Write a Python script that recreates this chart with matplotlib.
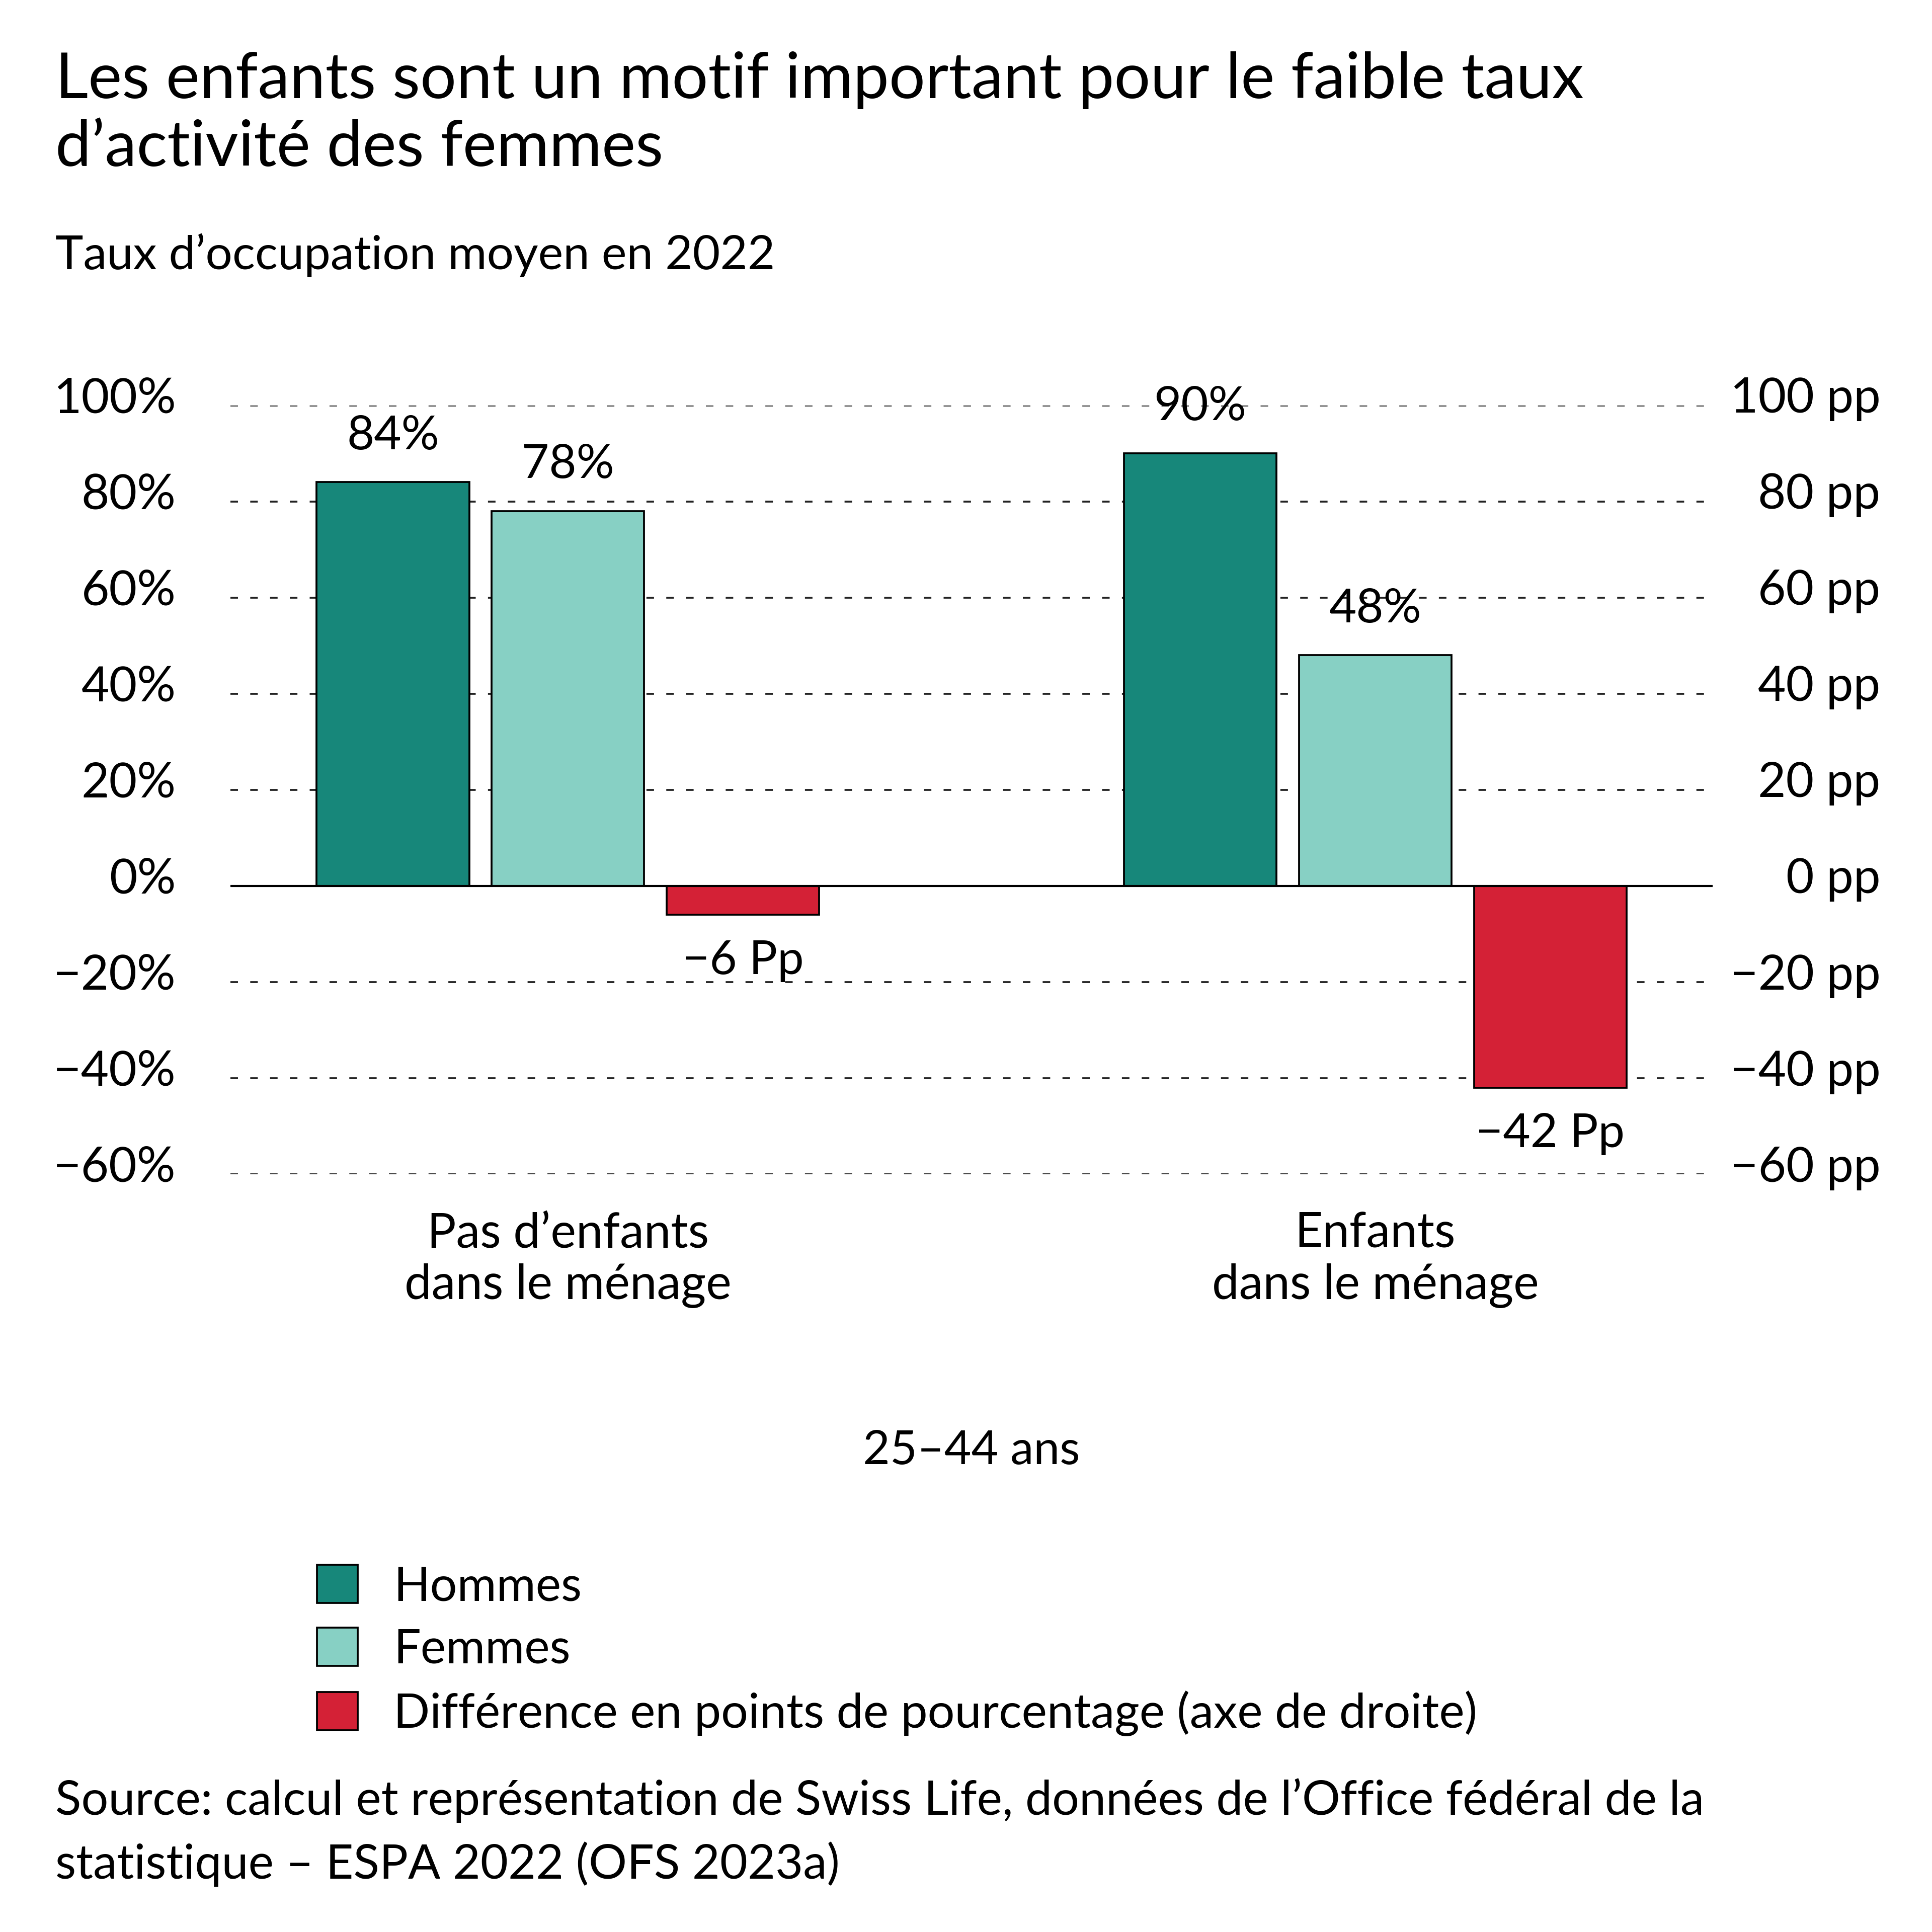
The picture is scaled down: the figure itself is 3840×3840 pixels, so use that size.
import matplotlib
matplotlib.use("Agg")
import matplotlib.pyplot as plt
import matplotlib.transforms as mtransforms
import numpy as np

plt.rcParams['font.family'] = ['Lato', 'DejaVu Sans']

# data
groups = ["Pas d\u2019enfants\ndans le ménage", "Enfants\ndans le ménage"]
hommes = [84, 90]
femmes = [78, 48]
diff = [-6, -42]
hommes_labels = ["84%", "90%"]
femmes_labels = ["78%", "48%"]
diff_labels = ["\u22126 Pp", "\u221242 Pp"]
left_ticks = [-60, -40, -20, 0, 20, 40, 60, 80, 100]
left_ticklabels = ["\u221260%", "\u221240%", "\u221220%", "0%", "20%", "40%", "60%", "80%", "100%"]
right_ticklabels = ["\u221260 pp", "\u221240 pp", "\u221220 pp", "0 pp", "20 pp", "40 pp", "60 pp", "80 pp", "100 pp"]
legend_labels = ["Hommes", "Femmes", "Différence en points de pourcentage (axe de droite)"]

c_hommes = "#17877A"
c_femmes = "#87D0C4"
c_diff = "#D42136"

fig = plt.figure(figsize=(12.8, 12.8), dpi=300)
ax = fig.add_axes([0.1193, 0.3922, 0.7672, 0.398])

x = np.arange(len(groups))
w = 0.189
off = 0.2168
b1 = ax.bar(x - off, hommes, w, color=c_hommes, edgecolor="black", linewidth=0.9, zorder=3)
b2 = ax.bar(x, femmes, w, color=c_femmes, edgecolor="black", linewidth=0.9, zorder=3)
b3 = ax.bar(x + off, diff, w, color=c_diff, edgecolor="black", linewidth=0.9, zorder=3)

# value labels
for bars, labs in [(b1, hommes_labels), (b2, femmes_labels)]:
    for r, t in zip(bars, labs):
        ax.annotate(t, (r.get_x() + r.get_width() / 2, r.get_height()),
                    xytext=(0, 22), textcoords="offset points",
                    ha="center", va="center", fontsize=22.5)
for r, t in zip(b3, diff_labels):
    ax.annotate(t, (r.get_x() + r.get_width() / 2, r.get_height()),
                xytext=(0, -22), textcoords="offset points",
                ha="center", va="center", fontsize=22.5)

ax.set_xlim(-0.418, 1.418)
ax.set_ylim(-60, 100)
for s in ax.spines.values():
    s.set_visible(False)
ax.axhline(0, color="black", linewidth=1.0, zorder=4)
for v in left_ticks:
    if v != 0:
        ax.axhline(v, color="#222222", linewidth=0.9, linestyle=(0, (4, 6.5)), zorder=1)

ax.set_yticks(left_ticks)
ax.set_yticklabels(left_ticklabels, fontsize=23)
ax.tick_params(axis="y", length=0, pad=26)
ax.set_xticks(x)
ax.set_xticklabels(groups, fontsize=23, linespacing=1.2)
ax.tick_params(axis="x", length=0, pad=18)
ax.set_xlabel("25\u201344 ans", fontsize=22.3, labelpad=58)

ax2 = ax.twinx()
ax2.set_ylim(-60, 100)
for s in ax2.spines.values():
    s.set_visible(False)
ax2.set_yticks(left_ticks)
ax2.set_yticklabels(right_ticklabels, fontsize=23, ha="right")
ax2.tick_params(axis="y", length=0, pad=80)

shift = mtransforms.ScaledTranslation(0, 5 / 72, fig.dpi_scale_trans)
for lab in ax.get_yticklabels() + ax2.get_yticklabels():
    lab.set_transform(lab.get_transform() + shift)

fig.text(0.0287, 0.9735, "Les enfants sont un motif important pour le faible taux\nd\u2019activité des femmes",
         fontsize=30.5, va="top", ha="left", linespacing=1.22)
fig.text(0.0287, 0.868, "Taux d\u2019occupation moyen en 2022", fontsize=22.6, va="center", ha="left")

fig.legend([b1, b2, b3], legend_labels, loc="upper left", bbox_to_anchor=(0.164, 0.19),
           frameon=False, fontsize=22.8, handlelength=0.85, handleheight=0.85,
           handletextpad=0.75, labelspacing=0.4, borderaxespad=0, borderpad=0)

fig.text(0.0287, 0.0515, "Source: calcul et représentation de Swiss Life, données de l\u2019Office fédéral de la\nstatistique \u2013 ESPA 2022 (OFS 2023a)",
         fontsize=22.8, va="center", ha="left", linespacing=1.5)

fig.savefig("out.png", dpi=300, facecolor="white")
